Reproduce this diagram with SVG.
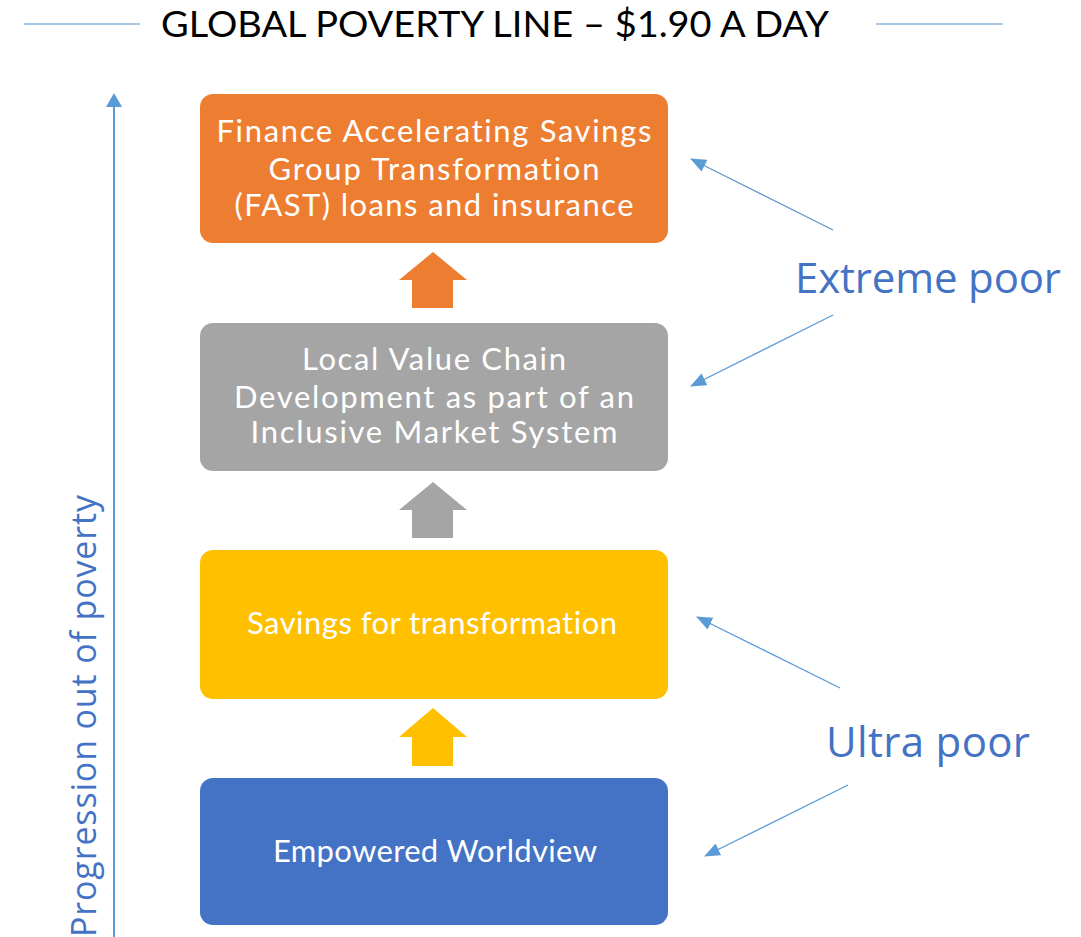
<svg xmlns="http://www.w3.org/2000/svg" width="1081" height="937" viewBox="0 0 1081 937">
<style>
  text { font-variant-ligatures: none; font-feature-settings: "liga" 0; }
  .title { font-family: Lato, "Liberation Sans", sans-serif; font-size: 36px; fill: #000; }
  .box text { font-family: Lato, "Open Sans", "Liberation Sans", sans-serif; font-size: 31px; fill: #fff; text-anchor: middle; }
  .label { font-family: "Open Sans", "Noto Sans", "Liberation Sans", sans-serif; fill: #4472C4; }
  .conn { stroke: #5B9BD5; stroke-width: 1.3; fill: none; marker-end: url(#tri); }
</style>
<defs>
  <marker id="tri" viewBox="0 0 16 13" refX="15" refY="6.5" markerWidth="16" markerHeight="13" markerUnits="userSpaceOnUse" orient="auto">
    <path d="M0,0 L16,6.5 L0,13 Z" fill="#5B9BD5"/>
  </marker>
</defs>
<rect width="1081" height="937" fill="#fff"/>

<g id="title">
  <line x1="24" y1="24" x2="140" y2="24" stroke="#8DB4E2" stroke-width="1.5"/>
  <line x1="876" y1="24" x2="1003" y2="24" stroke="#8DB4E2" stroke-width="1.5"/>
  <text class="title" x="161" y="37" textLength="668" lengthAdjust="spacingAndGlyphs">GLOBAL POVERTY LINE – $1.90 A DAY</text>
</g>

<g id="progression">
  <line x1="114" y1="104" x2="114" y2="937" stroke="#5B9BD5" stroke-width="2"/>
  <path d="M106,107 L114,93 L122,107 Z" fill="#5B9BD5"/>
  <text class="label" transform="translate(96,937) rotate(-90)" font-size="34" textLength="442">Progression out of poverty</text>
</g>

<g id="node-fast" class="box">
  <rect x="200" y="94" width="468" height="149" rx="13" fill="#ED7D31"/>
  <text x="434" y="142" textLength="435">Finance Accelerating Savings</text>
  <text x="434" y="180" textLength="331">Group Transformation</text>
  <text x="434" y="216" textLength="399">(FAST) loans and insurance</text>
</g>

<g id="node-valuechain" class="box">
  <rect x="200" y="323" width="468" height="148" rx="13" fill="#A5A5A5"/>
  <text x="434" y="370" textLength="264">Local Value Chain</text>
  <text x="434" y="408" textLength="400">Development as part of an</text>
  <text x="434" y="443" textLength="367">Inclusive Market System</text>
</g>

<g id="node-savings" class="box">
  <rect x="200" y="550" width="468" height="149" rx="13" fill="#FFC000"/>
  <text x="432" y="634" textLength="370">Savings for transformation</text>
</g>

<g id="node-worldview" class="box">
  <rect x="200" y="778" width="468" height="147" rx="13" fill="#4472C4"/>
  <text x="435" y="862" textLength="324">Empowered Worldview</text>
</g>

<g id="step-arrows">
  <path d="M433,252 L467,280 L453,280 L453,308 L412,308 L412,280 L399,280 Z" fill="#ED7D31"/>
  <path d="M433,482 L467,510 L453,510 L453,538 L412,538 L412,510 L399,510 Z" fill="#A5A5A5"/>
  <path d="M433,708 L467,737 L453,737 L453,766 L412,766 L412,737 L399,737 Z" fill="#FFC000"/>
</g>

<g id="label-extreme">
  <text class="label" x="795" y="293" font-size="42" textLength="266">Extreme poor</text>
</g>
<g id="label-ultra">
  <text class="label" x="826" y="757" font-size="42" textLength="204">Ultra poor</text>
</g>

<g id="connectors">
  <line class="conn" x1="833" y1="230" x2="691" y2="159"/>
  <line class="conn" x1="833" y1="315" x2="691" y2="386"/>
  <line class="conn" x1="840" y1="688" x2="697" y2="617"/>
  <line class="conn" x1="848" y1="785" x2="705" y2="856"/>
</g>
</svg>
